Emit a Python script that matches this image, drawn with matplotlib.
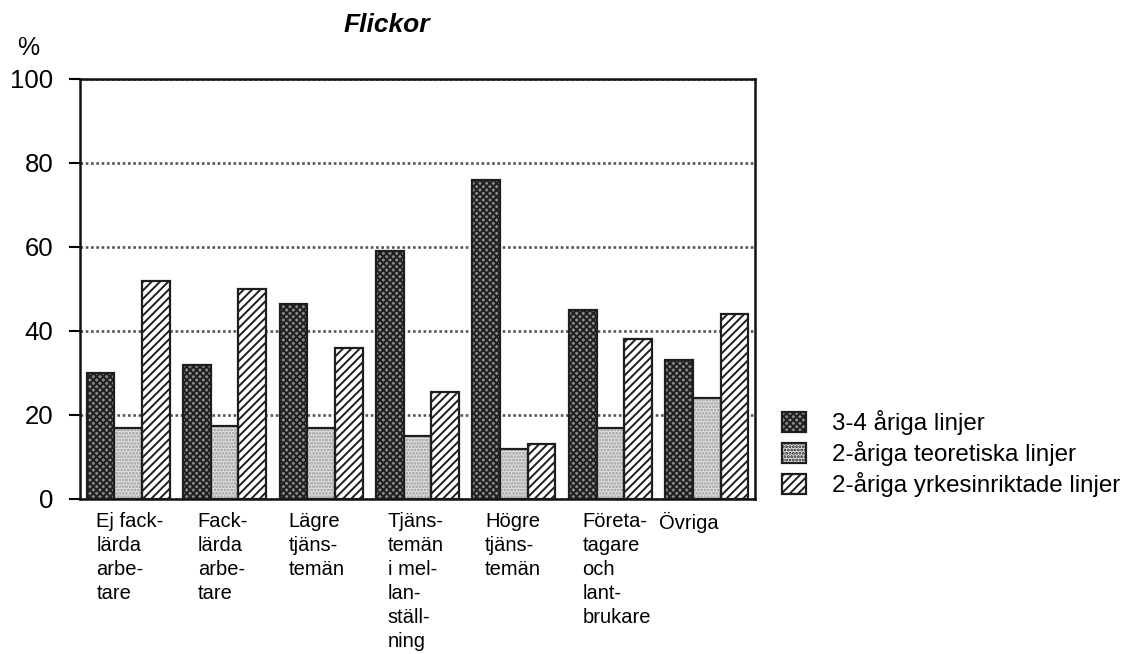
import matplotlib
matplotlib.use("Agg")
import matplotlib.pyplot as plt
import matplotlib.transforms as mtransforms
from matplotlib.patches import Patch
import numpy as np

plt.rcParams['font.family'] = ['Liberation Sans', 'DejaVu Sans']
plt.rcParams['hatch.linewidth'] = 1.4

categories = ["Ej fack-\nlärda\narbe-\ntare",
              "Fack-\nlärda\narbe-\ntare",
              "Lägre\ntjäns-\ntemän",
              "Tjäns-\ntemän\ni mel-\nlan-\nställ-\nning",
              "Högre\ntjäns-\ntemän",
              "Företa-\ntagare\noch\nlant-\nbrukare",
              "Övriga"]
series_names = ["3-4 åriga linjer", "2-åriga teoretiska linjer",
                "2-åriga yrkesinriktade linjer"]
vals_34 = [30, 32, 46.5, 59, 76, 45, 33]
vals_2teo = [17, 17.5, 17, 15, 12, 17, 24]
vals_2yrk = [52, 50, 36, 25.5, 13, 38, 44]
yticks = [0, 20, 40, 60, 80, 100]

# label left-edge offsets relative to group centre (style only)
label_dx = [-0.33, -0.28, -0.34, -0.31, -0.30, -0.29, -0.50]

fig = plt.figure(figsize=(11.24, 6.54), dpi=100)
ax = fig.add_axes([80/1124, 1-499/654, 675/1124, 420/654])

x = np.arange(len(categories))
w = 0.287
edge_lw = 1.6

st_dark = dict(facecolor='#8a8a8a', hatch='xxxxx', edgecolor='#1e1e1e', linewidth=edge_lw)
st_light_fill = dict(facecolor='#e2e2e2', hatch='.....', edgecolor='#9a9a9a', linewidth=0)
st_light_edge = dict(facecolor='none', edgecolor='#1e1e1e', linewidth=edge_lw)
st_hatch = dict(facecolor='white', hatch='////', edgecolor='#1e1e1e', linewidth=edge_lw)

ax.bar(x - w, vals_34, w, zorder=3, **st_dark)
ax.bar(x, vals_2teo, w, zorder=3, **st_light_fill)
ax.bar(x, vals_2teo, w, zorder=4, **st_light_edge)
ax.bar(x + w, vals_2yrk, w, zorder=3, **st_hatch)

ax.set_xlim(-0.5, len(categories) - 0.5)
ax.set_ylim(0, 100)
ax.set_yticks(yticks)
ax.set_yticklabels([str(v) for v in yticks], fontsize=18.5)
ax.set_xticks([])
ax.tick_params(axis='y', direction='out', length=8, width=1.5, pad=11)
for s in ax.spines.values():
    s.set_linewidth(1.8)
    s.set_color('#111111')
ax.yaxis.grid(True, linestyle=(0, (1, 1)), color='#555555', linewidth=1.9)
ax.set_axisbelow(True)

trans = mtransforms.blended_transform_factory(ax.transData, ax.transAxes)
for i, lab in enumerate(categories):
    ax.text(i + label_dx[i], -0.03, lab, transform=trans, ha='left', va='top',
            fontsize=14.5, linespacing=1.34)

fig.text(387/1124, 1-25/654, "Flickor", fontsize=19, fontweight='bold',
         fontstyle='italic', ha='center', va='center')
fig.text(28/1124, 1-48/654, "%", fontsize=18, ha='center', va='center')

handles = [Patch(**st_dark),
           Patch(facecolor='#e2e2e2', hatch='.....', edgecolor='#1e1e1e', linewidth=edge_lw),
           Patch(**st_hatch)]
fig.legend(handles, series_names, loc='upper left',
           bbox_to_anchor=(782/1124, 1-410/654), frameon=False,
           fontsize=17.4, handlelength=1.0, handleheight=0.9,
           handletextpad=1.05, labelspacing=0.25, borderpad=0, borderaxespad=0)

fig.savefig("out.png", dpi=100)
